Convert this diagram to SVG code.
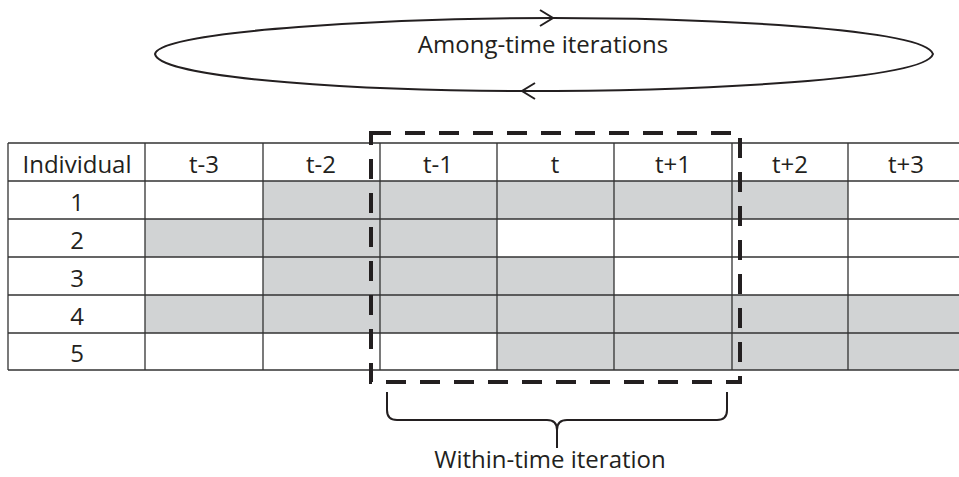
<svg xmlns="http://www.w3.org/2000/svg" width="959" height="477" viewBox="0 0 959 477">
<style>
text{font-family:"Open Sans","Liberation Sans",sans-serif;font-size:24px;fill:#231f20;text-anchor:middle}
.g{fill:#d1d3d4}
.grid{stroke:#333;stroke-width:1.3;fill:none}
.ln{stroke:#231f20;stroke-width:2;fill:none}
</style>
<rect width="959" height="477" fill="#fff"/>
<g id="cycle">
<path class="ln" d="M155,54 C160,30 400,18 553,18 C700,18 925,28 933,54 C925,80 700,91 522,91 C380,91 160,80 155,54 Z"/>
<path class="ln" d="M540,10 L553,18 L540,26"/>
<path class="ln" d="M535,83 L522,91 L535,99"/>
<text x="543" y="53">Among-time iterations</text>
</g>
<g id="table">
<g id="fills">
<rect class="g" x="263" y="181" width="585" height="38"/>
<rect class="g" x="145" y="219" width="352" height="38"/>
<rect class="g" x="263" y="257" width="351" height="38"/>
<rect class="g" x="145" y="295" width="820" height="38"/>
<rect class="g" x="497" y="333" width="468" height="37"/>
</g>
<g id="lines" class="grid">
<path d="M8,143 H965 M8,181 H965 M8,219 H965 M8,257 H965 M8,295 H965 M8,333 H965 M8,370 H965"/>
<path d="M8,143 V370 M145,143 V370 M263,143 V370 M380,143 V370 M497,143 V370 M614,143 V370 M732,143 V370 M848,143 V370"/>
</g>
<g id="header">
<text x="77" y="173">Individual</text>
<text x="204" y="173">t-3</text>
<text x="321" y="173">t-2</text>
<text x="438" y="173">t-1</text>
<text x="555" y="173">t</text>
<text x="673" y="173">t+1</text>
<text x="790" y="173">t+2</text>
<text x="906" y="173">t+3</text>
</g>
<g id="rows">
<text x="77" y="211">1</text>
<text x="77" y="249">2</text>
<text x="77" y="287">3</text>
<text x="77" y="325">4</text>
<text x="77" y="362">5</text>
</g>
</g>
<g id="window">
<rect x="371" y="133" width="369" height="249" fill="none" stroke="#231f20" stroke-width="4" stroke-dasharray="20 14"/>
</g>
<g id="brace">
<path class="ln" d="M387,392 V410 Q387,420 397,420 H547 Q557,420 557,430 V448 M557,430 Q557,420 567,420 H717 Q727,420 727,410 V392"/>
<text x="550" y="468">Within-time iteration</text>
</g>
</svg>
